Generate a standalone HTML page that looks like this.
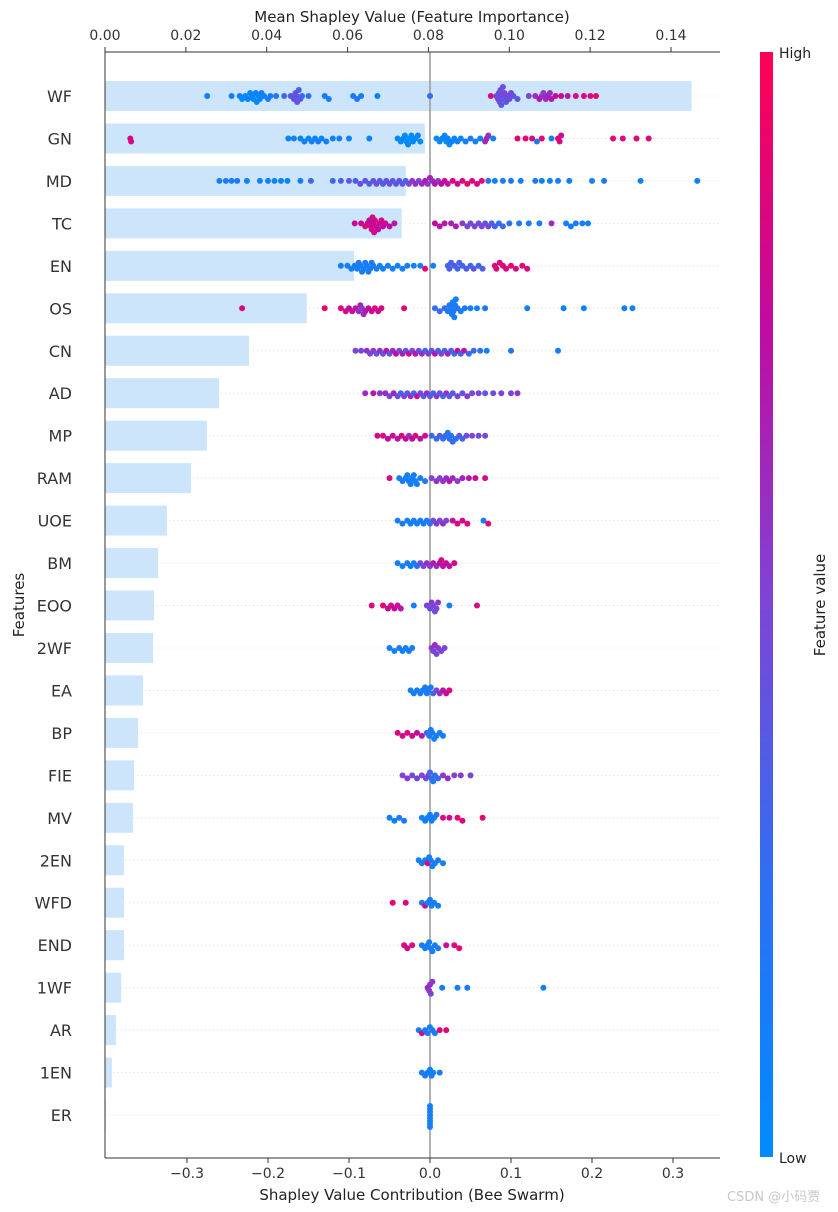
<!DOCTYPE html>
<html><head><meta charset="utf-8">
<style>
html,body{margin:0;padding:0;background:#fff;}
svg{display:block;font-family:"DejaVu Sans","Liberation Sans","Noto Sans CJK SC",sans-serif;}
</style></head>
<body>
<svg id="chart" width="838" height="1212" viewBox="0 0 838 1212" xmlns="http://www.w3.org/2000/svg">
<defs>
<linearGradient id="cbar" x1="0" y1="1" x2="0" y2="0">
<stop offset="0" stop-color="#008bfb"/>
<stop offset="0.25" stop-color="#2e6ff3"/>
<stop offset="0.5" stop-color="#7d45d6"/>
<stop offset="0.75" stop-color="#c00ba1"/>
<stop offset="1" stop-color="#ff0052"/>
</linearGradient>
</defs>
<g id="grid"></g>
<g id="bars"></g>
<line x1="430" y1="52" x2="430" y2="1158" stroke="#999" stroke-width="1.5"/>
<g id="dots"></g>
<g id="axes">
<line x1="105" y1="52" x2="105" y2="1158" stroke="#333" stroke-width="1"/>
<line x1="105" y1="52" x2="720" y2="52" stroke="#333" stroke-width="1"/>
<line x1="105" y1="1158" x2="720" y2="1158" stroke="#333" stroke-width="1"/>
</g>
<text x="412" y="22" font-size="15" text-anchor="middle" fill="#222">Mean Shapley Value (Feature Importance)</text>
<text x="412" y="1200" font-size="15" text-anchor="middle" fill="#222">Shapley Value Contribution (Bee Swarm)</text>
<text transform="translate(24,605) rotate(-90)" font-size="15" text-anchor="middle" fill="#222">Features</text>
<rect x="760" y="52" width="13" height="1105" fill="url(#cbar)"/>
<text x="779" y="58" font-size="14" fill="#222">High</text>
<text x="779" y="1163" font-size="14" fill="#222">Low</text>
<text transform="translate(825,605) rotate(-90)" font-size="15" text-anchor="middle" fill="#222">Feature value</text>
<text x="727" y="1201" font-size="13" fill="#c8c8c8">CSDN @小码贾</text>
</svg>
<script>
const features=["WF","GN","MD","TC","EN","OS","CN","AD","MP","RAM","UOE","BM","EOO","2WF","EA","BP","FIE","MV","2EN","WFD","END","1WF","AR","1EN","ER"];
const importance=[0.1451,0.0791,0.0744,0.0734,0.0616,0.0499,0.0356,0.0282,0.0252,0.0213,0.0153,0.0131,0.0121,0.0119,0.0094,0.0082,0.0072,0.0069,0.0047,0.0047,0.0047,0.0040,0.0027,0.0017,0.0002];
const topTicks=[0,0.02,0.04,0.06,0.08,0.10,0.12,0.14];
const topTickLabels=["0.00","0.02","0.04","0.06","0.08","0.10","0.12","0.14"];
const bottomTicks=[-0.3,-0.2,-0.1,0,0.1,0.2,0.3];
const bottomTickLabels=["−0.3","−0.2","−0.1","0.0","0.1","0.2","0.3"];
const shapWF=[[-0.275,.1],[-0.245,.1],[-0.235,.15],[-0.232,0],[-0.228,0],[-0.225,.05],[-0.222,0],[-0.22,.05],[-0.218,0],[-0.215,.1],[-0.214,0],[-0.212,0],[-0.21,.05],[-0.208,.1],[-0.205,.1],[-0.2,.1],[-0.197,.15],[-0.19,.2],[-0.18,.3],[-0.172,.35],[-0.168,.4],[-0.166,.4],[-0.165,.45],[-0.164,.4],[-0.162,.35],[-0.16,.4],[-0.158,.3],[-0.15,.2],[-0.13,.15],[-0.125,.1],[-0.095,.15],[-0.09,.2],[-0.085,.1],[-0.065,.1],[0,.3],[0.075,.85],[0.082,.5],[0.084,.45],[0.085,.4],[0.086,.45],[0.087,.45],[0.088,.4],[0.089,.5],[0.09,.45],[0.091,.4],[0.092,.5],[0.094,.4],[0.096,.45],[0.098,.45],[0.1,.5],[0.103,.4],[0.108,.4],[0.122,.5],[0.13,.6],[0.135,.7],[0.138,.6],[0.14,.55],[0.143,.6],[0.145,.65],[0.148,.6],[0.15,.7],[0.155,.75],[0.162,.8],[0.17,.7],[0.18,.85],[0.19,.9],[0.198,.85],[0.205,.9]];
const shapGN=[[-0.37,.85],[-0.369,.85],[-0.175,.05],[-0.168,.1],[-0.16,.05],[-0.155,.1],[-0.15,.05],[-0.146,.1],[-0.142,.05],[-0.138,.15],[-0.134,.05],[-0.128,.1],[-0.12,.05],[-0.112,.1],[-0.1,.05],[-0.075,.05],[-0.04,0],[-0.036,0],[-0.033,.05],[-0.031,0],[-0.029,0],[-0.027,.05],[-0.025,0],[-0.023,0],[-0.021,.05],[-0.018,0],[-0.015,.1],[-0.012,0],[0.008,0],[0.012,0],[0.015,.05],[0.018,0],[0.02,0],[0.022,.05],[0.024,0],[0.027,.1],[0.03,.05],[0.034,.1],[0.038,.05],[0.044,.1],[0.05,.15],[0.056,.1],[0.062,.05],[0.068,.6],[0.07,.65],[0.072,.6],[0.078,.1],[0.108,.9],[0.118,.9],[0.126,.85],[0.132,.2],[0.138,.9],[0.15,.1],[0.158,.9],[0.16,.85],[0.162,.8],[0.226,.9],[0.238,.85],[0.255,.9],[0.27,.85]];
const shapMD=[[-0.26,.1],[-0.252,.2],[-0.245,.1],[-0.238,.15],[-0.226,.05],[-0.21,.1],[-0.2,.1],[-0.192,.05],[-0.184,.1],[-0.176,.05],[-0.16,.1],[-0.147,.3],[-0.12,.3],[-0.11,.35],[-0.1,.4],[-0.092,.35],[-0.086,.45],[-0.08,.4],[-0.075,.35],[-0.07,.4],[-0.066,.45],[-0.062,.4],[-0.058,.35],[-0.054,.4],[-0.05,.45],[-0.046,.4],[-0.042,.35],[-0.038,.45],[-0.034,.4],[-0.03,.3],[-0.026,.5],[-0.022,.55],[-0.018,.6],[-0.014,.5],[-0.01,.6],[-0.006,.7],[-0.003,.55],[0,.65],[0.003,.6],[0.006,.7],[0.01,.55],[0.014,.75],[0.018,.8],[0.022,.7],[0.028,.85],[0.034,.8],[0.04,.85],[0.046,.9],[0.052,.85],[0.058,.85],[0.064,.9],[0.072,.2],[0.08,.1],[0.09,.15],[0.1,.1],[0.112,.1],[0.13,.15],[0.138,.1],[0.148,.1],[0.158,.1],[0.172,.1],[0.2,.1],[0.215,.15],[0.26,.1],[0.33,.1]];
const shapTC=[[-0.093,.8],[-0.085,.8],[-0.08,.85],[-0.077,.8],[-0.075,.75],[-0.073,.8],[-0.072,.85],[-0.071,.8],[-0.07,.75],[-0.069,.8],[-0.068,.85],[-0.066,.8],[-0.064,.75],[-0.062,.8],[-0.06,.8],[-0.058,.75],[-0.055,.8],[-0.05,.75],[-0.044,.7],[0.006,.75],[0.012,.7],[0.018,.7],[0.026,.65],[0.032,.7],[0.04,.55],[0.046,.5],[0.05,.45],[0.055,.5],[0.06,.45],[0.064,.5],[0.068,.4],[0.072,.5],[0.076,.3],[0.08,.35],[0.085,.25],[0.09,.3],[0.098,.25],[0.11,.15],[0.122,.1],[0.135,.15],[0.15,.6],[0.168,.1],[0.174,.1],[0.18,.15],[0.188,.1],[0.195,.1]];
const shapEN=[[-0.11,.1],[-0.102,.15],[-0.097,.1],[-0.093,.15],[-0.09,.1],[-0.088,.2],[-0.086,.1],[-0.084,.15],[-0.082,.1],[-0.08,.2],[-0.078,.1],[-0.076,.15],[-0.074,.1],[-0.072,.2],[-0.07,.1],[-0.066,.15],[-0.062,.1],[-0.058,.1],[-0.052,.15],[-0.046,.1],[-0.04,.1],[-0.034,.1],[-0.028,.15],[-0.02,.1],[-0.012,.1],[-0.006,.9],[0.004,.1],[0.022,.3],[0.024,.35],[0.026,.3],[0.03,.35],[0.034,.3],[0.036,.35],[0.04,.3],[0.045,.35],[0.05,.3],[0.054,.4],[0.06,.3],[0.065,.35],[0.08,.85],[0.082,.9],[0.086,.85],[0.09,.9],[0.094,.85],[0.1,.9],[0.106,.85],[0.114,.9],[0.12,.85]];
const shapOS=[[-0.232,.85],[-0.13,.9],[-0.11,.85],[-0.104,.8],[-0.1,.75],[-0.096,.8],[-0.092,.7],[-0.088,.6],[-0.086,.65],[-0.084,.55],[-0.082,.6],[-0.08,.7],[-0.076,.75],[-0.072,.8],[-0.068,.85],[-0.064,.8],[-0.06,.85],[-0.032,.9],[0.006,.25],[0.012,.3],[0.018,.2],[0.022,.15],[0.024,.2],[0.026,.1],[0.027,.15],[0.028,.1],[0.029,.2],[0.03,.1],[0.031,.15],[0.032,.1],[0.034,.2],[0.038,.1],[0.043,.15],[0.05,.1],[0.058,.1],[0.068,.15],[0.12,.1],[0.165,.1],[0.19,.1],[0.24,.1],[0.25,.1]];
const shapCN=[[-0.092,.5],[-0.085,.45],[-0.078,.6],[-0.074,.5],[-0.07,.55],[-0.066,.4],[-0.062,.6],[-0.058,.45],[-0.054,.7],[-0.05,.4],[-0.046,.6],[-0.042,.75],[-0.038,.5],[-0.034,.65],[-0.03,.4],[-0.026,.8],[-0.022,.5],[-0.018,.7],[-0.014,.45],[-0.01,.6],[-0.006,.3],[-0.002,.55],[0.002,.4],[0.006,.7],[0.01,.35],[0.014,.5],[0.018,.3],[0.022,.65],[0.026,.4],[0.03,.25],[0.034,.8],[0.038,.3],[0.042,.7],[0.048,.25],[0.054,.3],[0.062,.2],[0.07,.1],[0.1,.2],[0.158,.1]];
const shapAD=[[-0.08,.6],[-0.07,.7],[-0.062,.55],[-0.055,.6],[-0.05,.5],[-0.045,.65],[-0.04,.45],[-0.036,.3],[-0.032,.5],[-0.028,.4],[-0.024,.6],[-0.02,.3],[-0.016,.8],[-0.012,.5],[-0.008,.35],[-0.004,.6],[0,.4],[0.004,.3],[0.008,.55],[0.012,.45],[0.016,.3],[0.02,.6],[0.024,.4],[0.028,.35],[0.034,.5],[0.04,.4],[0.046,.55],[0.052,.45],[0.06,.5],[0.068,.4],[0.078,.45],[0.088,.5],[0.1,.5],[0.108,.55]];
const shapMP=[[-0.065,.8],[-0.058,.85],[-0.052,.75],[-0.046,.8],[-0.04,.7],[-0.035,.85],[-0.03,.8],[-0.026,.6],[-0.022,.75],[-0.018,.85],[-0.012,.7],[-0.006,.8],[0.002,.3],[0.008,.25],[0.012,.4],[0.016,.2],[0.019,.3],[0.022,.15],[0.024,.25],[0.026,.2],[0.028,.3],[0.032,.2],[0.036,.4],[0.04,.3],[0.045,.45],[0.052,.5],[0.06,.45],[0.068,.5]];
const shapRAM=[[-0.05,.85],[-0.038,.1],[-0.034,.15],[-0.03,.1],[-0.028,.1],[-0.026,.15],[-0.024,.1],[-0.022,.1],[-0.02,.15],[-0.018,.1],[-0.016,.1],[-0.012,.1],[-0.006,.2],[0.002,.5],[0.008,.6],[0.012,.5],[0.016,.55],[0.02,.6],[0.024,.7],[0.028,.6],[0.034,.55],[0.04,.65],[0.048,.7],[0.056,.8],[0.068,.85]];
const shapUOE=[[-0.04,.1],[-0.034,.15],[-0.028,.1],[-0.024,.1],[-0.02,.15],[-0.016,.1],[-0.012,.1],[-0.008,.15],[-0.004,.1],[0,.2],[0.004,.45],[0.008,.55],[0.012,.5],[0.016,.6],[0.02,.5],[0.028,.75],[0.034,.85],[0.04,.8],[0.046,.85],[0.066,.1],[0.072,.9]];
const shapBM=[[-0.04,.1],[-0.034,.1],[-0.028,.15],[-0.024,.1],[-0.02,.1],[-0.016,.2],[-0.012,.45],[-0.008,.5],[-0.004,.6],[0,.55],[0.004,.7],[0.008,.6],[0.012,.75],[0.014,.8],[0.016,.7],[0.02,.8],[0.024,.75],[0.03,.85]];
const shapEOO=[[-0.072,.85],[-0.058,.9],[-0.052,.8],[-0.048,.85],[-0.044,.75],[-0.04,.8],[-0.036,.7],[-0.02,.1],[-0.004,.5],[0,.45],[0.002,.55],[0.004,.5],[0.006,.45],[0.008,.5],[0.01,.55],[0.024,.1],[0.058,.85]];
const shapWF2=[[-0.05,.1],[-0.044,.1],[-0.038,.15],[-0.034,.1],[-0.03,.1],[-0.026,.15],[-0.022,.1],[0.002,.55],[0.004,.5],[0.006,.6],[0.008,.5],[0.01,.55],[0.014,.5],[0.018,.5]];
const shapEA=[[-0.024,.1],[-0.02,.1],[-0.016,.15],[-0.012,.1],[-0.009,.1],[-0.006,.15],[-0.004,.1],[-0.002,.2],[0.001,.1],[0.004,.3],[0.008,.5],[0.012,.6],[0.016,.7],[0.02,.8],[0.024,.85]];
const shapBP=[[-0.04,.85],[-0.034,.8],[-0.028,.85],[-0.022,.8],[-0.016,.75],[-0.01,.7],[-0.004,.3],[-0.001,.15],[0.001,.1],[0.003,.15],[0.005,.1],[0.008,.15],[0.012,.1],[0.016,.1]];
const shapFIE=[[-0.034,.5],[-0.028,.55],[-0.022,.45],[-0.016,.5],[-0.01,.5],[-0.005,.45],[-0.002,.55],[0,.3],[0.002,.2],[0.004,.15],[0.006,.25],[0.01,.3],[0.016,.55],[0.022,.6],[0.03,.5],[0.038,.55],[0.05,.5]];
const shapMV=[[-0.05,.1],[-0.044,.1],[-0.038,.1],[-0.032,.15],[-0.01,.1],[-0.006,.15],[-0.003,.1],[0,.1],[0.002,.15],[0.005,.1],[0.008,.2],[0.016,.85],[0.024,.8],[0.034,.9],[0.04,.85],[0.065,.9]];
const shapEN2=[[-0.014,.1],[-0.01,.15],[-0.006,.1],[-0.003,.85],[-0.001,.1],[0.001,.15],[0.003,.1],[0.006,.1],[0.01,.15],[0.016,.1]];
const shapWFD=[[-0.046,.9],[-0.03,.85],[-0.01,.2],[-0.006,.8],[-0.003,.1],[0,.15],[0.002,.1],[0.005,.1],[0.01,.1]];
const shapEND=[[-0.032,.85],[-0.028,.8],[-0.022,.85],[-0.01,.1],[-0.006,.15],[-0.003,.1],[-0.001,.1],[0.001,.15],[0.003,.1],[0.006,.1],[0.01,.2],[0.02,.8],[0.03,.85],[0.036,.9]];
const shapWF1=[[-0.003,.6],[-0.001,.55],[0,.6],[0.001,.5],[0.003,.55],[0.015,.1],[0.034,.1],[0.046,.1],[0.14,.1]];
const shapAR=[[-0.014,.1],[-0.01,.8],[-0.006,.1],[-0.003,.2],[0,.1],[0.003,.15],[0.006,.1],[0.012,.85],[0.02,.9]];
const shapEN1=[[-0.01,.1],[-0.006,.15],[-0.003,.1],[0,.1],[0.002,.15],[0.004,.1],[0.012,.1]];
const shapER=[[0,.1],[0,.15],[0,.1],[0,.1],[0,.15],[0,.1],[0,.1],[0,.15]];
const shapRows=[shapWF,shapGN,shapMD,shapTC,shapEN,shapOS,shapCN,shapAD,shapMP,shapRAM,shapUOE,shapBM,shapEOO,shapWF2,shapEA,shapBP,shapFIE,shapMV,shapEN2,shapWFD,shapEND,shapWF1,shapAR,shapEN1,shapER];

const NS="http://www.w3.org/2000/svg";
const xTop=v=>105+v*(566/0.14);
const xBot=v=>430+v*810;
const yRow=i=>96+i*42.46;
function col(t){
  const stops=[[0,[0,139,251]],[0.25,[46,111,243]],[0.5,[125,69,214]],[0.75,[192,11,161]],[1,[255,0,82]]];
  for(let k=1;k<stops.length;k++){if(t<=stops[k][0]){const a=stops[k-1],b=stops[k];const f=(t-a[0])/(b[0]-a[0]);return "rgb("+a[1].map((c,j)=>Math.round(c+(b[1][j]-c)*f)).join(",")+")";}}
  return "rgb(255,0,82)";
}
function mk(tag,attrs,parent){const e=document.createElementNS(NS,tag);for(const k in attrs)e.setAttribute(k,attrs[k]);parent.appendChild(e);return e;}
const svg=document.getElementById("chart");
const grid=document.getElementById("grid"),bars=document.getElementById("bars"),dots=document.getElementById("dots"),axes=document.getElementById("axes");
features.forEach((f,i)=>{
  const y=yRow(i);
  const g=mk("line",{x1:105,x2:720,y1:y,y2:y,stroke:"#ddd","stroke-width":1,"stroke-dasharray":"1,3"},grid);
  
  
  const b=mk("rect",{x:105,y:y-15,width:Math.max(0,xTop(importance[i])-105),height:30,fill:"#cce5fb"},bars);
  
  
  const t=mk("text",{x:72,y:y+6,"font-size":16,"text-anchor":"end",fill:"#333"},svg);
  t.textContent=f;
  
  
  const pts=shapRows[i].map(p=>({x:xBot(p[0]),f:p[1]})).sort((a,b)=>a.x-b.x);
  const placed=[];
  pts.forEach(p=>{
    let off=0;
    for(let k=0;k<24;k++){
      const cand=k===0?0:(k%2?1:-1)*Math.ceil(k/2)*3;
      if(!placed.some(q=>Math.abs(q.x-p.x)<5&&Math.abs(q.y-cand)<3)){off=cand;break;}
      off=cand;
    }
    off=Math.max(-17,Math.min(17,off));
    placed.push({x:p.x,y:off});
    const c=mk("circle",{cx:p.x.toFixed(1),cy:(y+off).toFixed(1),r:3,fill:col(p.f)},dots);
    
    
  });
});
topTicks.forEach((v,k)=>{
  const x=xTop(v);
  const l=mk("line",{x1:x,x2:x,y1:52,y2:47,stroke:"#333"},axes);
  
  
  const t=mk("text",{x:x,y:40,"font-size":14,"text-anchor":"middle",fill:"#333"},svg);
  t.textContent=topTickLabels[k];
  
  
});
bottomTicks.forEach((v,k)=>{
  const x=xBot(v);
  const l=mk("line",{x1:x,x2:x,y1:1158,y2:1163,stroke:"#333"},axes);
  
  
  const t=mk("text",{x:x,y:1178,"font-size":14,"text-anchor":"middle",fill:"#333"},svg);
  t.textContent=bottomTickLabels[k];
  
  
});
</script>
</body></html>
